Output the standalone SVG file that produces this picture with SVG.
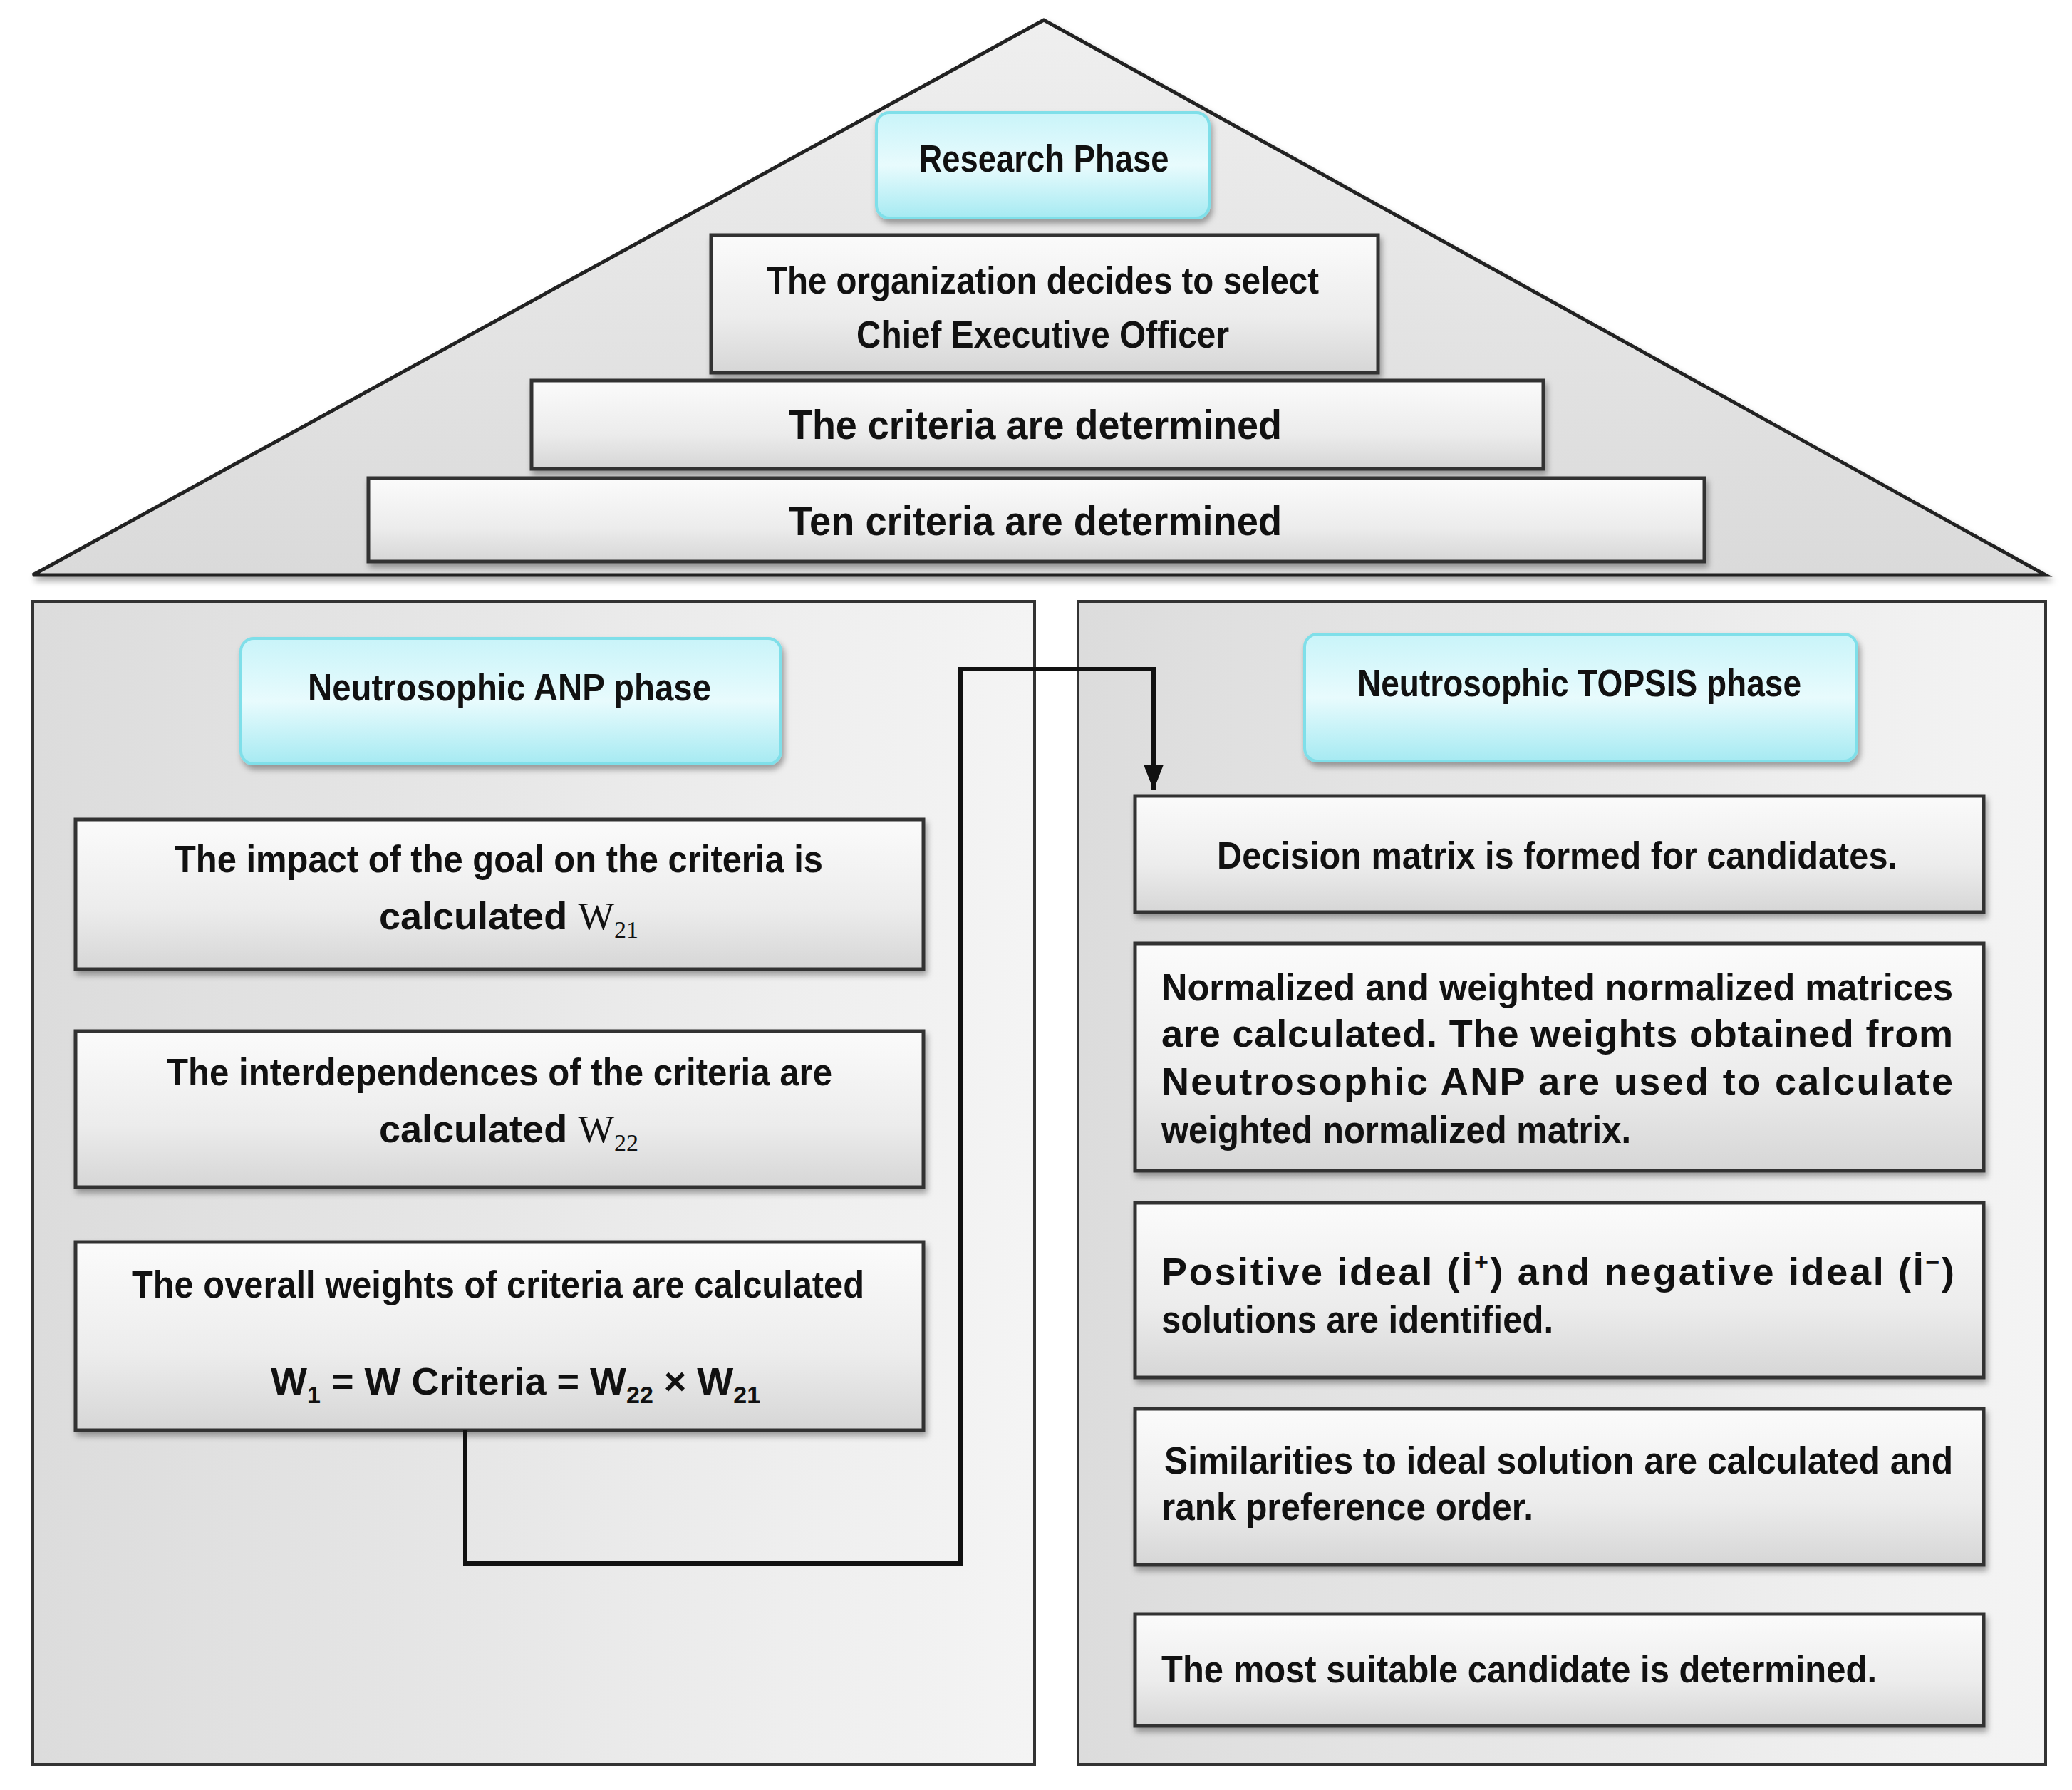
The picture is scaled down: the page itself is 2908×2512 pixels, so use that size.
<svg xmlns="http://www.w3.org/2000/svg" width="2908" height="2512" viewBox="0 0 2908 2512">
<style>
text{font-family:"Liberation Sans",Arial,sans-serif;font-weight:bold;fill:#111;font-size:54px}
.t{font-size:58px}
.box{fill:url(#bg);stroke:#333;stroke-width:5}
.pill{fill:url(#cg);stroke:#7fdfe9;stroke-width:4}
.panel{fill:url(#pg);stroke:#333;stroke-width:4}
.w{font-family:"Liberation Serif","Times New Roman",serif;font-weight:normal}
.sub{font-size:34px}
</style>
<defs>
<linearGradient id="bg" x1="0" y1="0" x2="0" y2="1"><stop offset="0" stop-color="#fbfbfb"/><stop offset="0.6" stop-color="#ececec"/><stop offset="1" stop-color="#d6d6d6"/></linearGradient>
<linearGradient id="cg" x1="0" y1="0" x2="0" y2="1"><stop offset="0" stop-color="#c9f4f9"/><stop offset="0.5" stop-color="#e8fbfd"/><stop offset="1" stop-color="#a6eaf2"/></linearGradient>
<linearGradient id="pg" x1="0" y1="0" x2="1" y2="0"><stop offset="0" stop-color="#dcdcdc"/><stop offset="1" stop-color="#f4f4f4"/></linearGradient>
<linearGradient id="tg" x1="0" y1="0" x2="0" y2="1"><stop offset="0" stop-color="#efefef"/><stop offset="1" stop-color="#dadada"/></linearGradient>
<filter id="sh" x="-5%" y="-5%" width="110%" height="120%"><feDropShadow dx="3" dy="6" stdDeviation="4" flood-color="#000" flood-opacity="0.35"/></filter>
<marker id="ah" markerWidth="36" markerHeight="28" refX="36" refY="14" orient="auto" markerUnits="userSpaceOnUse" viewBox="0 0 36 28"><path d="M0,0 L36,14 L0,28 Z" fill="#111"/></marker>
</defs>
<rect width="2908" height="2512" fill="#fff"/>
<g id="roof"><polygon points="1465,28 46,807 2871,807" fill="url(#tg)" stroke="#222" stroke-width="5" filter="url(#sh)"/></g>
<g id="research"><rect class="pill" x="1230" y="158" width="467" height="148" rx="18" filter="url(#sh)"/><text x="1465" y="241" text-anchor="middle" textLength="351" lengthAdjust="spacingAndGlyphs">Research Phase</text></g>
<g id="org"><rect class="box" x="998" y="330" width="936" height="193" filter="url(#sh)"/><text x="1076" y="412" textLength="775" lengthAdjust="spacingAndGlyphs">The organization decides to select</text><text x="1202" y="488" textLength="523" lengthAdjust="spacingAndGlyphs">Chief Executive Officer</text></g>
<g id="crit"><rect class="box" x="746" y="534" width="1420" height="124" filter="url(#sh)"/><text class="t" x="1107" y="616" textLength="692" lengthAdjust="spacingAndGlyphs">The criteria are determined</text></g>
<g id="ten"><rect class="box" x="517" y="671" width="1875" height="117" filter="url(#sh)"/><text class="t" x="1107" y="751" textLength="692" lengthAdjust="spacingAndGlyphs">Ten criteria are determined</text></g>
<g id="leftpanel"><rect class="panel" x="46" y="844" width="1406" height="1632"/></g>
<g id="rightpanel"><rect class="panel" x="1513" y="844" width="1358" height="1632"/></g>
<g id="anp"><rect class="pill" x="338" y="896" width="758" height="176" rx="18" filter="url(#sh)"/><text x="432" y="983" textLength="566" lengthAdjust="spacingAndGlyphs">Neutrosophic ANP phase</text></g>
<g id="topsis"><rect class="pill" x="1831" y="890" width="775" height="178" rx="18" filter="url(#sh)"/><text x="1905" y="977" textLength="623" lengthAdjust="spacingAndGlyphs">Neutrosophic TOPSIS phase</text></g>
<g id="l1"><rect class="box" x="106" y="1150" width="1190" height="210" filter="url(#sh)"/><text x="245" y="1224" textLength="910" lengthAdjust="spacingAndGlyphs">The impact of the goal on the criteria is</text><text x="532" y="1304">calculated <tspan class="w">W</tspan><tspan class="w sub" dy="12">21</tspan></text></g>
<g id="l2"><rect class="box" x="106" y="1447" width="1190" height="219" filter="url(#sh)"/><text x="234" y="1523" textLength="934" lengthAdjust="spacingAndGlyphs">The interdependences  of the criteria are</text><text x="532" y="1603">calculated <tspan class="w">W</tspan><tspan class="w sub" dy="12">22</tspan></text></g>
<g id="l3"><rect class="box" x="106" y="1743" width="1190" height="264" filter="url(#sh)"/><text x="185" y="1821" textLength="1028" lengthAdjust="spacingAndGlyphs">The overall weights  of criteria are calculated</text><text x="380" y="1957">W<tspan class="sub" dy="12">1</tspan><tspan dy="-12"> = W Criteria = W</tspan><tspan class="sub" dy="12">22</tspan><tspan dy="-12">  ×  W</tspan><tspan class="sub" dy="12">21</tspan></text></g>
<g id="r1"><rect class="box" x="1593" y="1117" width="1191" height="163" filter="url(#sh)"/><text x="1708" y="1219" textLength="955" lengthAdjust="spacingAndGlyphs">Decision matrix is formed for candidates.</text></g>
<g id="r2"><rect class="box" x="1593" y="1324" width="1191" height="319" filter="url(#sh)"/><text x="1630" y="1404" textLength="1111" lengthAdjust="spacingAndGlyphs">Normalized and weighted normalized matrices</text><text x="1630" y="1469" textLength="1111" lengthAdjust="spacing">are calculated. The weights obtained from</text><text x="1630" y="1536" textLength="1111" lengthAdjust="spacing">Neutrosophic ANP are used to calculate</text><text x="1630" y="1604" textLength="659" lengthAdjust="spacingAndGlyphs">weighted normalized matrix.</text></g>
<g id="r3"><rect class="box" x="1593" y="1688" width="1191" height="245" filter="url(#sh)"/><text x="1630" y="1803" textLength="1113" lengthAdjust="spacing">Positive ideal (İ<tspan class="sub" dy="-20">+</tspan><tspan dy="20">) and negative ideal (İ</tspan><tspan class="sub" dy="-20">−</tspan><tspan dy="20">)</tspan></text><text x="1630" y="1870" textLength="550" lengthAdjust="spacingAndGlyphs">solutions are identified.</text></g>
<g id="r4"><rect class="box" x="1593" y="1977" width="1191" height="219" filter="url(#sh)"/><text x="1634" y="2068" textLength="1107" lengthAdjust="spacingAndGlyphs">Similarities  to  ideal  solution  are  calculated  and</text><text x="1630" y="2133" textLength="522" lengthAdjust="spacingAndGlyphs">rank preference order.</text></g>
<g id="r5"><rect class="box" x="1593" y="2265" width="1191" height="157" filter="url(#sh)"/><text x="1630" y="2361" textLength="1004" lengthAdjust="spacingAndGlyphs">The most suitable candidate is determined.</text></g>
<g id="connectors"><polyline points="653,2007 653,2194 1348,2194 1348,939 1619,939 1619,1109" fill="none" stroke="#111" stroke-width="6" marker-end="url(#ah)"/></g>
</svg>
